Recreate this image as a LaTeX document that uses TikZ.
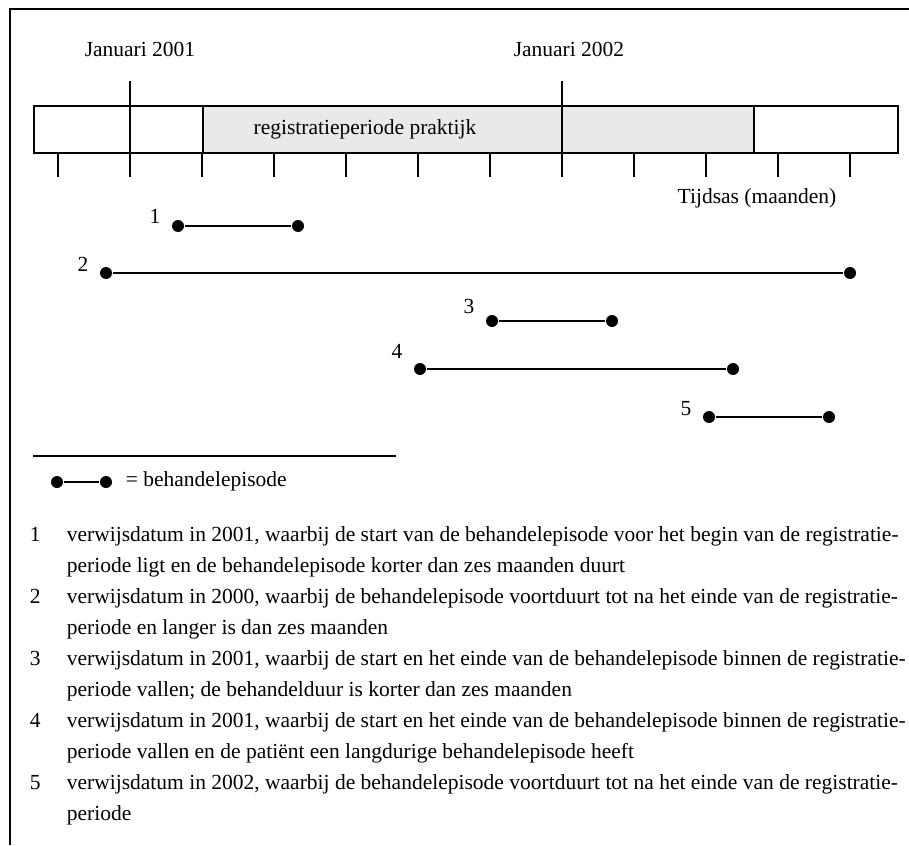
\documentclass[tikz,border=0pt]{standalone}
\usepackage{fontspec}
\setmainfont{Liberation Serif}
\usepackage{tikz}
\usetikzlibrary{positioning}

\begin{document}
\begin{tikzpicture}[
                x = 1pt, y = -1pt,
                line width = 1.8pt,
                every node/.style = {inner sep = 0pt, font = \fontsize{21.5}{25}\selectfont},
                txt/.style  = {anchor = base},
                txtw/.style = {anchor = base west},
                dot/.style  = {circle, fill = black, minimum size = 12pt},
                period/.style = {fill = gray!17}
                ]
              \useasboundingbox (0,0) rectangle (909,845);

              % Frame (open at right and bottom)
              \draw (10,845) -- (10,9) -- (909,9);

              % Time bar
              \draw[fill = white] (34,106) rectangle (898,153);
              \filldraw[period] (203,106) rectangle (754,153);
              \draw (130,81) -- (130,153);
              \draw (562,81) -- (562,153);
              \foreach \m in {0,...,11}
                \draw (58+72*\m,153) -- (58+72*\m,177);

              \node[txt] (jan1) at (140,57)   {Januari 2001};
              \node[txt] (jan2) at (569,57)   {Januari 2002};
              \node[txt] (reg)  at (365,135)  {registratieperiode praktijk};
              \node[txt] (axis) at (757,203)  {Tijdsas (maanden)};

              % Episodes: number / start / end / y / label baseline
              \foreach \n/\s/\e/\y/\l in {1/178/298/226/223,
                                          2/106/850/273/271,
                                          3/492/612/321/313,
                                          4/420/733/369/358,
                                          5/709/829/417/415} {
                \node[dot] (s\n) at (\s,\y) {};
                \node[dot] (e\n) at (\e,\y) {};
                \draw (s\n) -- (e\n);
                \node[txt] (l\n) at (\s-23,\l) {\n};
              }

              % Legend
              \draw (33,456) -- (396,456);
              \node[dot] (ls) at (57,482)  {};
              \node[dot] (le) at (106,482) {};
              \draw (ls) -- (le);
              \node[txtw] (legend) at (125,486) {= behandelepisode};

              % Explanation of the episodes
              \foreach \n/\ta/\tb in {
                1/{verwijsdatum in 2001, waarbij de start van de behandelepisode voor het begin van de registratie-}/{periode ligt en de behandelepisode korter dan zes maanden duurt},
                2/{verwijsdatum in 2000, waarbij de behandelepisode voortduurt tot na het einde van de registratie-}/{periode en langer is dan zes maanden},
                3/{verwijsdatum in 2001, waarbij de start en het einde van de behandelepisode binnen de registratie-}/{periode vallen; de behandelduur is korter dan zes maanden},
                4/{verwijsdatum in 2001, waarbij de start en het einde van de behandelepisode binnen de registratie-}/{periode vallen en de patiënt een langdurige behandelepisode heeft},
                5/{verwijsdatum in 2002, waarbij de behandelepisode voortduurt tot na het einde van de registratie-}/{periode}} {
                \pgfmathsetmacro\yy{541+62*(\n-1)}
                \node[txtw] (num\n) at (29,\yy)    {\n};
                \node[txtw] (ta\n)  at (66,\yy)    {\ta};
                \node[txtw] (tb\n)  at (66,\yy+31) {\tb};
              }
            \end{tikzpicture}
\end{document}
